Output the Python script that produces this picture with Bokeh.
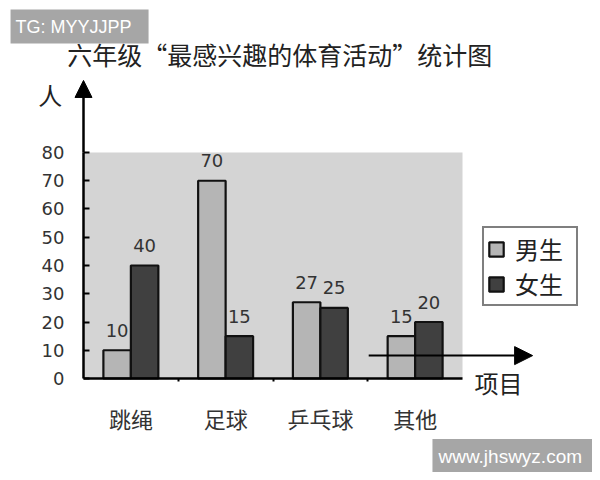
from bokeh.plotting import figure
from bokeh.models import (ColumnDataSource, Range1d, FixedTicker, LabelSet, Label,
                          Arrow, NormalHead)
from bokeh.core.properties import value
from bokeh.transform import dodge
from bokeh.embed import file_html
from bokeh.resources import INLINE

# data
categories = ["跳绳", "足球", "乒乓球", "其他"]
boys = [10, 70, 27, 15]
girls = [40, 15, 25, 20]
y_ticks = [0, 10, 20, 30, 40, 50, 60, 70, 80]

CJK = "Noto Sans CJK SC"
NUM = "DejaVu Sans"

src = ColumnDataSource(data=dict(
    x=[i + 0.5 for i in range(len(categories))],
    boys=boys,
    girls=girls,
    boys_txt=[str(v) for v in boys],
    girls_txt=[str(v) for v in girls],
))

# the frame covers the whole canvas, axes sit at x=0 / y=0 inside it
p = figure(width=592, height=472,
           x_range=Range1d(-0.876, 5.372), y_range=Range1d(-33.27, 133.8),
           output_backend="svg", toolbar_location=None, tools="",
           min_border=0)
p.background_fill_color = "white"
p.border_fill_color = "white"
p.outline_line_color = None
p.grid.visible = False

# grey plot area
p.quad(left=0, right=len(categories), bottom=y_ticks[0], top=y_ticks[-1],
       fill_color="#d4d4d4", line_color=None)

# bars
p.vbar(x=dodge("x", -0.145), top="boys", width=0.29, source=src,
       fill_color="#b5b5b5", line_color="#111111", line_width=2.2, legend_label="男生")
p.vbar(x=dodge("x", 0.145), top="girls", width=0.29, source=src,
       fill_color="#404040", line_color="#111111", line_width=2.2, legend_label="女生")

# value labels
for col, off in (("boys", -0.145), ("girls", 0.145)):
    p.add_layout(LabelSet(x=dodge("x", off), y=col, text=col + "_txt", source=src,
                          text_align="center", text_baseline="middle", y_offset=20,
                          text_font=value(NUM), text_font_size="18px",
                          text_color="#333333"))

# y axis
p.yaxis.fixed_location = 0
p.yaxis.ticker = FixedTicker(ticks=y_ticks)
p.yaxis.bounds = (0, 80)
p.yaxis.axis_line_width = 2.5
p.yaxis.axis_line_color = "black"
p.yaxis.major_tick_in = 6
p.yaxis.major_tick_out = 0
p.yaxis.major_tick_line_width = 2
p.yaxis.minor_tick_line_color = None
p.yaxis.major_label_standoff = 19
p.yaxis.major_label_text_font = NUM
p.yaxis.major_label_text_font_size = "18px"
p.yaxis.major_label_text_color = "#333333"

# x axis
p.xaxis.fixed_location = 0
p.xaxis.ticker = FixedTicker(ticks=[i + 0.5 for i in range(len(categories))],
                             minor_ticks=list(range(1, len(categories))))
p.xaxis.major_label_overrides = {i + 0.5: c for i, c in enumerate(categories)}
p.xaxis.bounds = (0, len(categories))
p.xaxis.axis_line_width = 2.5
p.xaxis.axis_line_color = "black"
p.xaxis.major_tick_line_color = None
p.xaxis.major_tick_out = 0
p.xaxis.minor_tick_in = 0
p.xaxis.minor_tick_out = 3
p.xaxis.minor_tick_line_width = 2
p.xaxis.major_label_standoff = 20
p.xaxis.major_label_text_font = CJK
p.xaxis.major_label_text_font_size = "22px"
p.xaxis.major_label_text_color = "#333333"

# arrows
p.add_layout(Arrow(end=NormalHead(size=17, fill_color="black", line_color="black"),
                   x_start=0, y_start=80, x_end=0, y_end=105.5,
                   line_width=2.5, line_color="black"))
p.add_layout(Arrow(end=NormalHead(size=18, fill_color="black", line_color="black"),
                   x_start=3.01, y_start=8.1, x_end=4.74, y_end=8.1,
                   line_width=2, line_color="black"))

# texts
p.add_layout(Label(x=2.07, y=115.0, text="六年级“最感兴趣的体育活动”统计图",
                   text_align="center", text_baseline="middle",
                   text_font=CJK, text_font_size="25px", text_color="#222222"))
p.add_layout(Label(x=-0.35, y=100.5, text="人", text_align="center",
                   text_baseline="middle", text_font=CJK, text_font_size="24px",
                   text_color="#222222"))
p.add_layout(Label(x=4.38, y=-1.5, text="项目", text_align="center",
                   text_baseline="middle", text_font=CJK, text_font_size="24px",
                   text_color="#222222"))

# watermarks
p.add_layout(Label(x=-0.77, y=130.6, text="TG: MYYJJPP", text_align="left",
                   text_baseline="top", text_font="Liberation Sans",
                   text_font_size="18px", text_color="white",
                   background_fill_color="#a6a6a6",
                   padding=dict(left=5, right=17, top=7, bottom=7)))
p.add_layout(Label(x=3.683, y=-21.4, text="www.jhswyz.com", text_align="left",
                   text_baseline="top", text_font="Liberation Sans",
                   text_font_size="19px", text_color="white",
                   background_fill_color="#a6a6a6",
                   padding=dict(left=6, right=10, top=7, bottom=7)))

# legend
p.legend.location = (482, 166)
p.legend.border_line_color = "black"
p.legend.border_line_width = 2
p.legend.background_fill_color = "white"
p.legend.background_fill_alpha = 1
p.legend.label_text_font = CJK
p.legend.label_text_font_size = "24px"
p.legend.label_text_color = "#222222"
p.legend.glyph_width = 18
p.legend.glyph_height = 18
p.legend.label_width = 58
p.legend.spacing = 0
p.legend.padding = 3
p.legend.label_standoff = 10
p.legend.margin = 0

open("out.html", "w").write(file_html(p, INLINE))
